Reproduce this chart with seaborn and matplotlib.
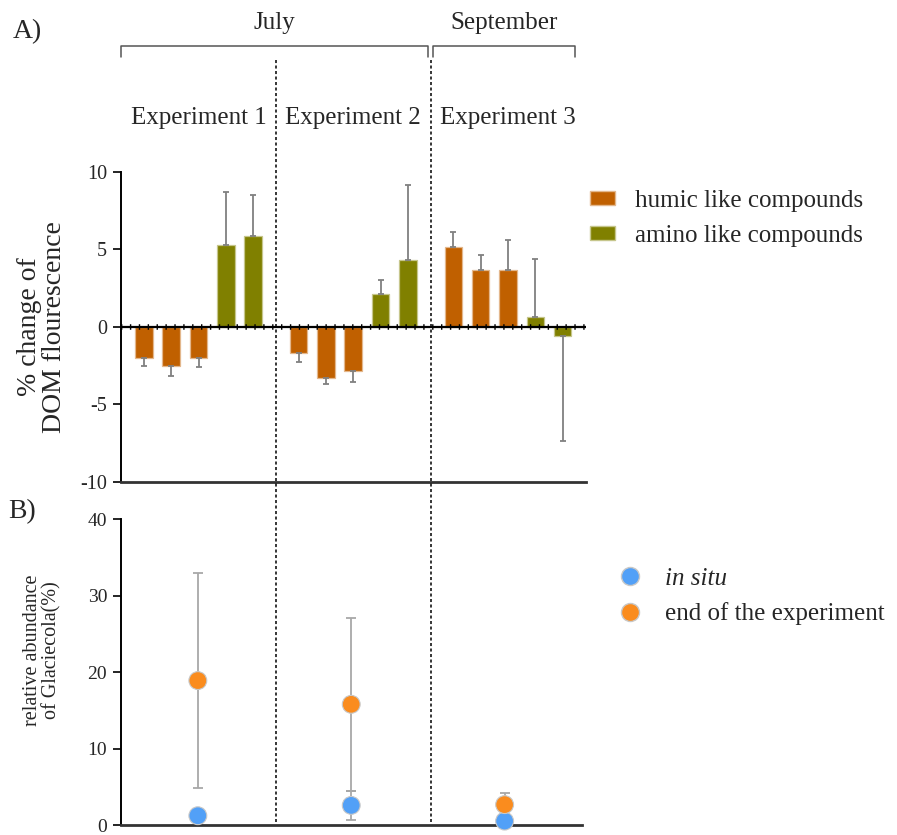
import numpy as np
import pandas as pd
import matplotlib
matplotlib.use("Agg")
import matplotlib.pyplot as plt
import matplotlib.transforms as mtransforms
from matplotlib.patches import Patch
from matplotlib.lines import Line2D
import seaborn as sns

# ---------------- data ----------------
experiments = ["Experiment 1", "Experiment 2", "Experiment 3"]
months = ["July", "September"]
compound_labels = ["humic like compounds", "amino like compounds"]
bar_compound = ["humic", "humic", "humic", "amino", "amino"]  # per experiment
dom_change = [-2.0, -2.55, -2.0, 5.27, 5.85,
              -1.68, -3.29, -2.88, 2.09, 4.28,
              5.16, 3.68, 3.68, 0.61, -0.6]
dom_err = [0.52, 0.62, 0.62, 3.4, 2.65,
           0.62, 0.41, 0.71, 0.9, 4.84,
           0.93, 0.97, 1.89, 3.76, 6.79]

sample_labels = ["in situ", "end of the experiment"]
in_situ = [1.25, 2.6, 0.55]
in_situ_err = [0.0, 1.9, 0.0]
end_exp = [18.9, 15.8, 2.7]
end_err = [14.0, 11.3, 1.5]

# ---------------- style ----------------
sns.set_style("ticks")
plt.rcParams["font.family"] = ["Liberation Serif", "DejaVu Serif"]
plt.rcParams["axes.unicode_minus"] = False

humic_c = "#C06000"
amino_c = "#808000"
blue_c = "#52A0F7"
orange_c = "#FA8C1E"


def light(c):
    return tuple(np.array(matplotlib.colors.to_rgb(c)) * 0.45 + 0.55)


fig = plt.figure(figsize=(8.97, 8.35), dpi=100)
W, H = 897.0, 835.0
ax1 = fig.add_axes([121 / W, 1 - 481.7 / H, 465 / W, (481.7 - 171.7) / H])
ax2 = fig.add_axes([121 / W, 1 - 825.3 / H, 461 / W, (825.3 - 519) / H])

group_step = 5.67
positions = []
compounds = []
for g in range(len(experiments)):
    for j, c in enumerate(bar_compound):
        positions.append(g * group_step + j)
        compounds.append(c)
group_centers = [g * group_step + 2 for g in range(len(experiments))]

df = pd.DataFrame({"pos": positions, "value": dom_change, "compound": compounds})
sns.barplot(data=df, x="pos", y="value", hue="compound",
            palette={"humic": humic_c, "amino": amino_c}, saturation=1,
            native_scale=True, dodge=False, width=0.64, errorbar=None,
            legend=False, ax=ax1, zorder=2)
for p in ax1.patches:
    p.set_edgecolor(light(p.get_facecolor()[:3]))
    p.set_linewidth(0.9)

vals = np.array(dom_change)
errs = np.array(dom_err)
lower = np.where(vals < 0, errs, 0)
upper = np.where(vals >= 0, errs, 0)
eb = ax1.errorbar(positions, vals, yerr=[lower, upper], fmt="none",
                  ecolor="#808080", elinewidth=1.3, capsize=2.3, capthick=1.3, zorder=3)
for cap in eb[1]:
    cap.set_color("#333333")

ax1.axhline(0, color="black", lw=1.6, zorder=4)
ax1.axhline(0, color="black", lw=4, ls=(0, (0.25, 1.35)), zorder=4)

xlim = (-0.84, 16.2)
ax1.set_xlim(*xlim)
ax1.set_ylim(-10, 10)
ax1.set_yticks([-10, -5, 0, 5, 10])
ax1.set_xticks([])
ax1.set_xlabel("")
ax1.set_ylabel("% change of\nDOM flourescence", fontsize=20, linespacing=0.95)
ax1.yaxis.label.set_va("center")
ax1.yaxis.set_label_coords((42 - 121) / 465, 0.5)
sns.despine(ax=ax1)
ax1.spines["left"].set_linewidth(1.4)
ax1.spines["left"].set_color("black")
ax1.spines["bottom"].set_linewidth(2.0)
ax1.spines["bottom"].set_color("#333333")
ax1.tick_params(axis="y", labelsize=14.5, length=6, width=1.2, color="black", pad=4)

# ---------------- bottom panel ----------------
df2 = pd.DataFrame({
    "pos": group_centers * 2,
    "value": in_situ + end_exp,
    "sample": [sample_labels[0]] * 3 + [sample_labels[1]] * 3,
})
ax2.errorbar(group_centers, end_exp, yerr=end_err, fmt="none", ecolor="#a8a8a8",
             elinewidth=1.3, capsize=3.3, capthick=1.3, zorder=2)
ax2.errorbar(group_centers, in_situ, yerr=in_situ_err, fmt="none", ecolor="#a8a8a8",
             elinewidth=1.3, capsize=3.3, capthick=1.3, zorder=2)
sns.scatterplot(data=df2, x="pos", y="value", hue="sample",
                palette={sample_labels[0]: blue_c, sample_labels[1]: orange_c},
                s=165, edgecolor="#c8c8c8", linewidth=0.8, legend=False, ax=ax2, zorder=3)
for coll in ax2.collections:
    coll.set_clip_on(False)

ax2.set_xlim(*xlim)
ax2.set_ylim(0, 40)
ax2.set_yticks([0, 10, 20, 30, 40])
ax2.set_xticks([])
ax2.set_xlabel("")
ax2.set_ylabel("relative abundance\nof Glaciecola(%)", fontsize=14.5, linespacing=1.0)
ax2.yaxis.label.set_va("center")
ax2.yaxis.set_label_coords((42 - 121) / 461, (825.3 - 650) / 306.3)
sns.despine(ax=ax2)
ax2.spines["left"].set_linewidth(1.4)
ax2.spines["left"].set_color("black")
ax2.spines["bottom"].set_linewidth(2.0)
ax2.spines["bottom"].set_color("#333333")
ax2.tick_params(axis="y", labelsize=14, length=6, width=1.2, color="black", pad=4)
for lbl in ax2.get_yticklabels():
    lbl.set_va("center_baseline")

# ---------------- dividers, brackets, headings ----------------
trans = mtransforms.blended_transform_factory(ax1.transData, fig.transFigure)
dividers = [(4 + group_step) / 2, (4 + group_step + 2 * group_step) / 2]
for xd in dividers:
    fig.add_artist(Line2D([xd, xd], [1 - 60 / H, 1 - 822 / H], transform=trans,
                          color="black", lw=1.1, ls=(0, (2, 1.6)), zorder=5))

y_top = 1 - 46 / H
y_leg = 1 - 57 / H
brackets = [(xlim[0], dividers[1] - 0.08), (dividers[1] + 0.08, 15.8)]
for (xa, xb) in brackets:
    fig.add_artist(Line2D([xa, xa, xb, xb], [y_leg, y_top, y_top, y_leg],
                          transform=trans, color="#555555", lw=1.1))
for (xa, xb), m in zip(brackets, months):
    fig.text((xa + xb) / 2, 1 - 23 / H, m, transform=trans, ha="center", va="center", fontsize=18)

for xc, e in zip(group_centers, experiments):
    fig.text(xc, 1 - 118 / H, e, transform=trans, ha="center", va="center", fontsize=18)

fig.text(13 / W, 1 - 32 / H, "A)", ha="left", va="center", fontsize=20)
fig.text(8 / W, 1 - 512 / H, "B)", ha="left", va="center", fontsize=20)

# ---------------- legends ----------------
h1 = [Patch(facecolor=humic_c, edgecolor=light(humic_c)),
      Patch(facecolor=amino_c, edgecolor=light(amino_c))]
fig.legend(h1, compound_labels, loc="center left", bbox_to_anchor=(590 / W, 1 - 218.5 / H),
           frameon=False, fontsize=18, handlelength=1.0, handleheight=0.5,
           handletextpad=0.8, labelspacing=0.5, borderpad=0, borderaxespad=0)

h2 = [Line2D([], [], marker="o", ls="none", markersize=13, markerfacecolor=blue_c,
             markeredgecolor="#c8c8c8"),
      Line2D([], [], marker="o", ls="none", markersize=13, markerfacecolor=orange_c,
             markeredgecolor="#c8c8c8")]
leg2 = fig.legend(h2, sample_labels, loc="center left", bbox_to_anchor=(610 / W, 1 - 596.5 / H),
                  frameon=False, fontsize=18, handlelength=1.6, handletextpad=0.6,
                  labelspacing=0.5, borderpad=0, borderaxespad=0)
leg2.get_texts()[0].set_fontstyle("italic")

fig.savefig("out.png", dpi=100)
